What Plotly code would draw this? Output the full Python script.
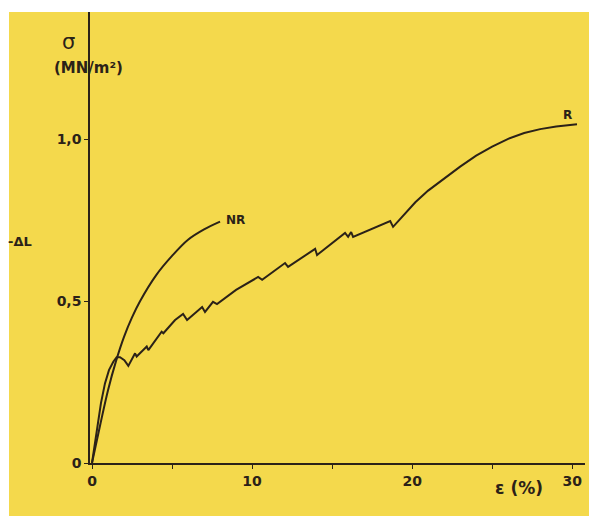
import plotly.graph_objects as go

# Stress-strain curves: strain in %, stress in MN/m^2
r_strain = [0, 0.29, 0.56, 0.81, 1.06, 1.33, 1.54, 1.75, 2.02, 2.27, 2.69, 2.79,
            3.42, 3.52, 4.35, 4.46, 5.19, 5.69, 5.94, 6.88, 7.06, 7.56, 7.81,
            9.0, 10.38, 10.63, 12.06, 12.25, 13.94, 14.06, 15.81, 16.0, 16.19, 16.31,
            17.5, 18.63, 18.81, 19.2, 19.6, 20.2, 21.0, 22.0, 23.0, 24.0, 25.0,
            26.0, 27.0, 28.0, 29.0, 30.3]
r_stress = [0, 0.092, 0.185, 0.246, 0.287, 0.313, 0.327, 0.327, 0.318, 0.300, 0.339, 0.329,
            0.360, 0.349, 0.406, 0.401, 0.442, 0.461, 0.442, 0.482, 0.467, 0.498, 0.491,
            0.535, 0.575, 0.566, 0.618, 0.606, 0.662, 0.643, 0.711, 0.699, 0.714, 0.699,
            0.725, 0.748, 0.730, 0.752, 0.774, 0.806, 0.842, 0.880, 0.916, 0.950, 0.978,
            1.002, 1.020, 1.032, 1.040, 1.047]

nr_strain = [0, 0.5, 1.0, 1.5, 2.0, 2.5, 3.0, 4.0, 5.0, 6.0, 7.0, 8.0]
nr_stress = [0, 0.115, 0.225, 0.315, 0.39, 0.45, 0.50, 0.58, 0.64, 0.69, 0.722, 0.746]

x_ticks = [0, 5, 10, 15, 20, 25, 30]
x_tick_text = ["0", "", "10", "", "20", "", "30"]
y_ticks = [0, 0.5, 1.0]
y_tick_text = ["0", "0,5", "1,0"]

ink = "#2b2218"
paper = "#F4D94C"
font_family = "DejaVu Sans, Noto Sans, sans-serif"

fig = go.Figure()
fig.add_trace(go.Scatter(x=r_strain, y=r_stress, mode="lines",
                         line=dict(color=ink, width=2), showlegend=False))
fig.add_trace(go.Scatter(x=nr_strain, y=nr_stress, mode="lines", line_shape="spline",
                         line=dict(color=ink, width=2), showlegend=False))

W, H = 589, 516
ml, mr, mt, mb = 90, 4, 12, 53
pw, ph = W - ml - mr, H - mt - mb

fig.update_layout(
    width=W, height=H,
    margin=dict(l=ml, r=mr, t=mt, b=mb),
    paper_bgcolor=paper, plot_bgcolor=paper,
    font=dict(family=font_family, color=ink),
    xaxis=dict(range=[-0.125, 30.8], showgrid=False, zeroline=False,
               showline=True, linecolor=ink, linewidth=1.5,
               tickvals=x_ticks, ticktext=x_tick_text,
               ticks="outside", ticklen=4, tickcolor=ink,
               tickfont=dict(size=14, color=ink, weight="bold")),
    yaxis=dict(range=[0, 1.394], showgrid=False, zeroline=False,
               showline=True, linecolor=ink, linewidth=1.5,
               tickvals=y_ticks, ticktext=y_tick_text,
               ticks="outside", ticklen=4, tickcolor=ink,
               tickfont=dict(size=14, color=ink, weight="bold")),
    shapes=[
        # white border strips along top and left edges of the page
        dict(type="rect", xref="paper", yref="paper", layer="below",
             x0=-ml / pw, x1=-(ml - 9) / pw, y0=-mb / ph, y1=1 + mt / ph,
             fillcolor="white", line=dict(width=0)),
        dict(type="rect", xref="paper", yref="paper", layer="below",
             x0=-ml / pw, x1=1 + mr / pw, y0=1, y1=1 + mt / ph,
             fillcolor="white", line=dict(width=0)),
    ],
    annotations=[
        dict(text="σ", xref="paper", yref="paper",
             x=(60 - ml) / pw, y=1 - (28 - mt) / ph, showarrow=False,
             font=dict(size=21, color=ink)),
        dict(text="(MN/m²)", xref="paper", yref="paper",
             x=(52 - ml) / pw, y=1 - (57 - mt) / ph, showarrow=False,
             font=dict(size=15, color=ink, weight="bold")),
        dict(text="-ΔL", xref="paper", yref="paper", xanchor="left",
             x=(6 - ml) / pw, y=1 - (241 - mt) / ph, showarrow=False,
             font=dict(size=13, color=ink, weight="bold")),
        dict(text="ε (%)", xref="paper", yref="paper",
             x=(545 - ml) / pw, y=-(500 - mt - ph) / ph, showarrow=False,
             font=dict(size=17, color=ink, weight="bold")),
        dict(text="NR", x=nr_strain[-1] + 0.95, y=nr_stress[-1] + 0.005,
             showarrow=False, font=dict(size=12, color=ink, weight="bold")),
        dict(text="R", x=r_strain[-1] - 0.6, y=r_stress[-1] + 0.03,
             showarrow=False, font=dict(size=12, color=ink, weight="bold")),
    ],
)

fig.write_html("out.html")
